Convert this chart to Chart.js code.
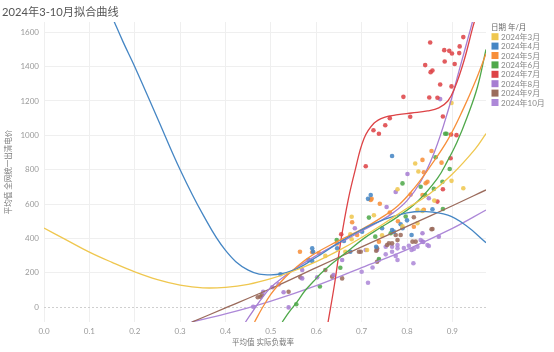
<!DOCTYPE html>
<html>
<head>
<meta charset="utf-8">
<script src="https://cdn.jsdelivr.net/npm/chart.js@4.4.1/dist/chart.umd.min.js"></script>
<style>
  html, body { margin: 0; padding: 0; background: #fff; }
</style>
</head>
<body>
<canvas id="myChart" width="554" height="352"></canvas>
<script>
"use strict";

// Months shown in the legend
const months = ["2024年3月", "2024年4月", "2024年5月", "2024年6月", "2024年7月", "2024年8月", "2024年9月", "2024年10月"];
const colors = ["#efc74f", "#4586c4", "#f78f3a", "#4fa84a", "#dd4346", "#a67dd2", "#9b6b5c", "#ad88d8"];

// Tick labels
const xTicks = [0, 0.1, 0.2, 0.3, 0.4, 0.5, 0.6, 0.7, 0.8, 0.9];
const yTicks = [0, 200, 400, 600, 800, 1000, 1200, 1400, 1600];

// Scatter points [实际负载率, 出清电价] per month
const mar = [[0.62, 298], [0.664, 322], [0.675, 424], [0.678, 395], [0.678, 526], [0.712, 332], [0.727, 535], [0.745, 418], [0.779, 686], [0.79, 470], [0.818, 836], [0.823, 566], [0.823, 488], [0.825, 789], [0.834, 560], [0.86, 620], [0.898, 735], [0.898, 1188], [0.924, 692]];
const apr = [[0.521, 191], [0.583, 274], [0.591, 268], [0.591, 342], [0.593, 322], [0.646, 342], [0.661, 385], [0.675, 322], [0.701, 439], [0.714, 630], [0.72, 653], [0.732, 351], [0.745, 459], [0.767, 449], [0.771, 439], [0.767, 880], [0.786, 482], [0.79, 459], [0.8, 505], [0.81, 420], [0.856, 570]];
const may = [[0.564, 322], [0.591, 319], [0.606, 313], [0.646, 370], [0.679, 494], [0.69, 420], [0.72, 624], [0.722, 630], [0.738, 381], [0.74, 602], [0.762, 550], [0.78, 500], [0.808, 655], [0.815, 468], [0.834, 653], [0.834, 857], [0.837, 785], [0.837, 566], [0.841, 721], [0.845, 730], [0.854, 909], [0.876, 841]];
const jun = [[0.556, 16], [0.608, 120], [0.645, 390], [0.653, 229], [0.716, 521], [0.73, 410], [0.738, 280], [0.764, 430], [0.79, 720], [0.797, 527], [0.83, 701], [0.84, 653], [0.859, 688], [0.863, 872], [0.878, 730], [0.879, 571], [0.884, 1009], [0.887, 1009], [0.894, 804]];
const jul = [[0.655, 424], [0.709, 820], [0.726, 1030], [0.738, 1009], [0.752, 1059], [0.762, 1100], [0.792, 1224], [0.807, 1108], [0.84, 1409], [0.849, 1220], [0.851, 1541], [0.852, 1368], [0.856, 1378], [0.867, 1219], [0.867, 614], [0.873, 1296], [0.879, 1110], [0.879, 686], [0.882, 1496], [0.883, 1430], [0.893, 1492], [0.896, 867], [0.897, 1005], [0.898, 1285], [0.899, 1477], [0.905, 1415], [0.909, 1001], [0.915, 1479], [0.916, 1518], [0.924, 1572]];
const aug = [[0.461, 2], [0.483, 89], [0.503, 115], [0.517, 132], [0.528, 86], [0.539, -2], [0.569, 216], [0.569, 167], [0.602, 173], [0.638, 187], [0.657, 274], [0.685, 459], [0.755, 583], [0.775, 670], [0.801, 775], [0.834, 430], [0.834, 381], [0.848, 634], [0.87, 410], [0.873, 1211]];
const sep = [[0.471, 57], [0.477, 60], [0.48, 70], [0.539, 89], [0.565, 173], [0.62, 216], [0.635, 177], [0.657, 167], [0.694, 322], [0.698, 322], [0.732, 328], [0.734, 342], [0.734, 264], [0.756, 361], [0.76, 371], [0.767, 371], [0.775, 420], [0.779, 390], [0.786, 420], [0.812, 381], [0.815, 523], [0.819, 381], [0.854, 453], [0.856, 455]];
const oct = [[0.7, 206], [0.709, 332], [0.714, 142], [0.724, 230], [0.734, 332], [0.738, 274], [0.753, 351], [0.753, 307], [0.767, 351], [0.767, 322], [0.775, 298], [0.779, 342], [0.779, 274], [0.779, 361], [0.793, 344], [0.804, 357], [0.81, 332], [0.814, 255], [0.815, 338], [0.823, 351], [0.83, 390], [0.836, 379], [0.845, 361], [0.848, 356]];

// Fitted curves
const marFit = [[0, 460], [0.05, 390], [0.1, 320], [0.15, 260], [0.2, 205], [0.25, 160], [0.3, 128], [0.35, 112], [0.4, 115], [0.45, 132], [0.5, 165], [0.55, 210], [0.6, 265], [0.65, 330], [0.7, 405], [0.75, 488], [0.8, 575], [0.85, 660], [0.9, 775], [0.95, 920], [0.974, 1010]];
const aprFit = [[0.15, 1690], [0.175, 1540], [0.2, 1400], [0.25, 1100], [0.3, 800], [0.35, 540], [0.4, 330], [0.45, 215], [0.5, 188], [0.55, 215], [0.6, 290], [0.65, 375], [0.7, 450], [0.75, 510], [0.8, 548], [0.84, 556], [0.89, 535], [0.93, 475], [0.974, 375]];
const mayFit = [[0.464, -87], [0.48, -10], [0.5, 75], [0.52, 140], [0.54, 195], [0.56, 240], [0.58, 282], [0.6, 316], [0.63, 360], [0.66, 400], [0.7, 452], [0.74, 515], [0.78, 590], [0.815, 690], [0.85, 815], [0.89, 975], [0.925, 1160], [0.95, 1310], [0.974, 1475]];
const junFit = [[0.525, -87], [0.54, -30], [0.558, 31], [0.575, 95], [0.594, 150], [0.61, 195], [0.631, 245], [0.65, 285], [0.668, 322], [0.705, 400], [0.74, 460], [0.779, 525], [0.823, 615], [0.867, 750], [0.889, 850], [0.91, 960], [0.933, 1110], [0.955, 1280], [0.974, 1500]];
const julFit = [[0.626, -87], [0.64, 130], [0.655, 400], [0.67, 620], [0.685, 790], [0.705, 980], [0.727, 1070], [0.75, 1105], [0.78, 1120], [0.81, 1130], [0.845, 1142], [0.87, 1160], [0.89, 1200], [0.905, 1275], [0.925, 1430], [0.945, 1630], [0.955, 1720]];
const augFit = [[0.444, -87], [0.46, -25], [0.477, 40], [0.5, 115], [0.53, 180], [0.56, 235], [0.6, 300], [0.63, 345], [0.67, 400], [0.705, 450], [0.74, 500], [0.77, 550], [0.8, 620], [0.83, 730], [0.86, 900], [0.89, 1140], [0.915, 1380], [0.94, 1620], [0.95, 1720]];
const sepFit = [[0.326, -87], [0.4, -5], [0.5, 108], [0.6, 230], [0.7, 350], [0.8, 470], [0.9, 590], [0.974, 682]];
const octFit = [[0.325, -87], [0.4, -40], [0.5, 35], [0.6, 125], [0.7, 230], [0.8, 335], [0.9, 458], [0.974, 565]];

const points = [mar, apr, may, jun, jul, aug, sep, oct];
const fits = [marFit, aprFit, mayFit, junFit, julFit, augFit, sepFit, octFit];

const FONT = "Lato, 'Noto Sans CJK SC', sans-serif";
const toXY = (arr) => arr.map((p) => ({ x: p[0], y: p[1] }));

const datasets = [];
// Curves first so they stay on top of the dots
fits.forEach((f, i) => {
  datasets.push({
    label: months[i] + " 趋势",
    data: toXY(f),
    showLine: true,
    borderColor: colors[i],
    borderWidth: 1.3,
    pointRadius: 0,
    tension: 0.4,
    fill: false,
  });
});
points.forEach((p, i) => {
  datasets.push({
    label: months[i],
    data: toXY(p),
    backgroundColor: colors[i] + "dd",
    borderWidth: 0,
    pointRadius: 2.3,
  });
});

// Title, axis titles, zero line and legend
const decor = {
  id: "decor",
  beforeDatasetsDraw(chart) {
    const { ctx, chartArea, scales } = chart;
    const y0 = Math.round(scales.y.getPixelForValue(0)) + 0.5;
    ctx.save();
    ctx.strokeStyle = "#cfcfcf";
    ctx.lineWidth = 1;
    ctx.setLineDash([2, 2]);
    ctx.beginPath();
    ctx.moveTo(chartArea.left, y0);
    ctx.lineTo(chartArea.right, y0);
    ctx.stroke();
    ctx.restore();
  },
  afterDraw(chart) {
    const { ctx, chartArea } = chart;
    ctx.save();
    ctx.fillStyle = "#555";
    ctx.font = "11.2px " + FONT;
    ctx.textBaseline = "middle";
    ctx.fillText("2024年3-10月拟合曲线", 2, 12);

    ctx.fillStyle = "#777";
    ctx.font = "7.5px " + FONT;
    ctx.textAlign = "center";
    ctx.fillText("平均值 实际负载率", (chartArea.left + chartArea.right) / 2 - 2, 343);
    ctx.save();
    ctx.translate(9, (chartArea.top + chartArea.bottom) / 2);
    ctx.rotate(-Math.PI / 2);
    ctx.fillText("平均值 全网统一出清电价", 0, 0);
    ctx.restore();

    // Legend
    ctx.textAlign = "left";
    ctx.fillStyle = "#666";
    ctx.font = "7.5px " + FONT;
    ctx.fillText("日期 年/月", 491, 28);
    ctx.font = "8px " + FONT;
    months.forEach((m, i) => {
      const y = 36.7 + i * 9.4;
      ctx.fillStyle = colors[i];
      ctx.fillRect(491.5, y - 3.5, 7, 7);
      ctx.fillStyle = "#888";
      ctx.fillText(m, 501, y + 0.5);
    });
    ctx.restore();
  },
};

const ctx = document.getElementById("myChart").getContext("2d");
const myChart = new Chart(ctx, {
  type: "scatter",
  data: { datasets },
  plugins: [decor],
  options: {
    responsive: false,
    animation: false,
    devicePixelRatio: 1,
    layout: { padding: { top: 22, right: 68, left: 0, bottom: 0 } },
    plugins: {
      legend: { display: false },
      tooltip: { enabled: false },
    },
    scales: {
      x: {
        type: "linear",
        min: 0,
        max: 0.974,
        afterBuildTicks: (s) => { s.ticks = xTicks.map((v) => ({ value: v })); },
        afterFit: (s) => { s.height = 30; },
        grid: { color: "#efefef", drawTicks: false },
        border: { display: false },
        ticks: {
          padding: 5,
          color: "#9a9a9a",
          font: { size: 8, family: FONT },
          callback: (v) => Number(v).toFixed(1),
        },
      },
      y: {
        type: "linear",
        min: -87,
        max: 1660,
        afterBuildTicks: (s) => { s.ticks = yTicks.map((v) => ({ value: v })); },
        afterFit: (s) => { s.width = 44; },
        grid: {
          color: (c) => (c.tick && c.tick.value === 0 ? "rgba(0,0,0,0)" : "#efefef"),
          drawTicks: false,
        },
        border: { display: false },
        ticks: {
          padding: 5,
          color: "#9a9a9a",
          font: { size: 8, family: FONT },
          callback: (v) => String(v),
        },
      },
    },
  },
});
</script>
</body>
</html>
